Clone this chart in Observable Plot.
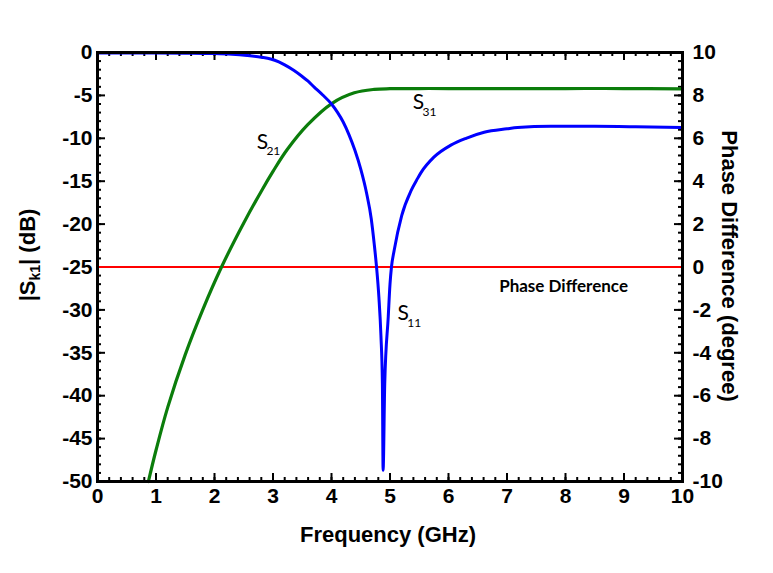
<!DOCTYPE html>
<html><head><meta charset="utf-8">
<script src="https://cdn.jsdelivr.net/npm/d3@7"></script>
<script src="https://cdn.jsdelivr.net/npm/@observablehq/plot@0.6"></script>
<style>body{margin:0;background:#fff;} svg{display:block}</style>
</head><body><div id="chart"></div>
<script>
// S11 (blue) — frequency (GHz) and magnitude (dB)
const s11Freq = [0, 0.5, 1, 1.5, 2, 2.3, 2.56, 2.8, 2.96, 3.1, 3.2, 3.36, 3.5, 3.6, 3.7, 3.85, 4.0, 4.1, 4.2, 4.3, 4.4, 4.5, 4.6, 4.68, 4.73, 4.77, 4.81, 4.845, 4.87, 4.882, 4.91, 4.97, 5.0, 5.025, 5.07, 5.2, 5.36, 5.47, 5.53, 5.75, 6.04, 6.3, 6.61, 7.0, 7.18, 7.75, 8.5, 9.2, 10];
const s11DB   = [-0.05, -0.05, -0.06, -0.08, -0.12, -0.2, -0.35, -0.55, -0.75, -1.1, -1.45, -2.1, -2.8, -3.35, -4.0, -4.95, -6.0, -6.95, -8.1, -9.6, -11.4, -13.6, -16.4, -19.4, -22.3, -25, -28.5, -33, -38.6, -48.7, -38.6, -30.8, -27, -25, -23.1, -19.0, -16.1, -14.7, -14.0, -12.2, -10.8, -10.0, -9.3, -8.9, -8.75, -8.6, -8.6, -8.65, -8.75];
// S21 / S31 (green)
const s21Freq = [0.87, 1.0, 1.2, 1.5, 1.8, 2.12, 2.5, 2.82, 3.0, 3.24, 3.59, 4.01, 4.39, 4.73, 5.0, 5.5, 6, 7, 8, 9, 10];
const s21DB   = [-50, -46.36, -41.36, -35.21, -29.96, -25.0, -19.87, -15.93, -13.86, -11.34, -8.44, -5.92, -4.7, -4.3, -4.22, -4.2, -4.2, -4.2, -4.2, -4.2, -4.25];
// Phase difference (degree)
const phaseFreq = [0, 10];
const phaseDeg  = [0, 0];
// Tick labels
const xTicks = [0, 1, 2, 3, 4, 5, 6, 7, 8, 9, 10];
const yTicks = [0, -5, -10, -15, -20, -25, -30, -35, -40, -45, -50];
const phaseTicks = [10, 8, 6, 4, 2, 0, -2, -4, -6, -8, -10];
// Curve annotations
const labelMain = ["S", "S", "S"];
const labelSub  = ["21", "31", "11"];
const labelFreq = [2.818, 5.487, 5.227];
const labelDB   = [-10.43, -5.83, -30.45];
const phaseLabel = ["Phase Difference"];
const phaseLabelFreq = [6.866];
const phaseLabelDB = [-27.27];

const toDB = p => (p - 10) * 2.5;     // right axis (phase) -> left axis (dB)
const fromDB = d => d / 2.5 + 10;

const W = 773, H = 573, mL = 97, mR = 91, mT = 52, mB = 92;
const pw = W - mL - mR, ph = H - mT - mB;

const xMinor = d3.range(0, 10.0001, 0.2).map(v => +v.toFixed(2));
const yMinor = d3.range(-50, 0.0001, 1);
const pMinor = d3.range(-10, 10.0001, 0.4).map(v => toDB(+v.toFixed(2)));
const pMajor = phaseTicks.map(toDB);

const s11 = s11Freq.map((f, i) => ({f, v: s11DB[i]}));
const s21 = s21Freq.map((f, i) => ({f, v: s21DB[i]}));
const phase = phaseFreq.map((f, i) => ({f, v: toDB(phaseDeg[i])}));
const labels = labelMain.map((t, i) => ({t, s: labelSub[i], f: labelFreq[i], v: labelDB[i]}));

const tickStyle = {stroke: "black", strokeWidth: 2};
const font = "Liberation Sans, Arial, sans-serif";

const chart = Plot.plot({
  width: W, height: H,
  marginLeft: mL, marginRight: mR, marginTop: mT, marginBottom: mB,
  x: {domain: [0, 10]},
  y: {domain: [-50, 0]},
  style: {fontFamily: font, fontSize: "21px", fontWeight: "bold", color: "black", background: "white"},
  marks: [
    // ticks (inward) bottom / top
    Plot.tickX(xMinor, {x: d => d, insetTop: ph - 4, ...tickStyle}),
    Plot.tickX(xTicks, {x: d => d, insetTop: ph - 8, ...tickStyle}),
    Plot.tickX(xMinor, {x: d => d, insetBottom: ph - 4, ...tickStyle}),
    Plot.tickX(xTicks, {x: d => d, insetBottom: ph - 8, ...tickStyle}),
    // left ticks
    Plot.tickY(yMinor, {y: d => d, insetRight: pw - 4, ...tickStyle}),
    Plot.tickY(yTicks, {y: d => d, insetRight: pw - 8, ...tickStyle}),
    // right ticks (phase)
    Plot.tickY(pMinor, {y: d => d, insetLeft: pw - 4, ...tickStyle}),
    Plot.tickY(pMajor, {y: d => d, insetLeft: pw - 8, ...tickStyle}),
    // tick labels
    Plot.axisX(xTicks, {anchor: "bottom", tickSize: 0, tickPadding: 7, label: null, fontSize: 21, tickFormat: d => String(d)}),
    Plot.axisY(yTicks, {anchor: "left", tickSize: 0, tickPadding: 5, label: null, fontSize: 21, tickFormat: d => String(d)}),
    Plot.axisY(pMajor, {anchor: "right", tickSize: 0, tickPadding: 10, label: null, fontSize: 21, tickFormat: d => String(Math.round(fromDB(d)))}),
    // data
    Plot.line(phase, {x: "f", y: "v", stroke: "#ff0000", strokeWidth: 2}),
    Plot.line(s21, {x: "f", y: "v", stroke: "#0b7d0b", strokeWidth: 3.2, curve: "catmull-rom"}),
    Plot.line(s11, {x: "f", y: "v", stroke: "#0000ff", strokeWidth: 3, curve: "monotone-x"}),
    // annotations
    Plot.text(labels, {x: "f", y: "v", text: "t", fontFamily: "Lato, Open Sans, sans-serif", fontWeight: "normal", fontSize: 21, fill: "black"}),
    Plot.text(labels, {x: "f", y: "v", text: "s", dx: 11, dy: 9.5, fontFamily: "Lato, Open Sans, sans-serif", fontWeight: "normal", fontSize: 12, fill: "black"}),
    Plot.text(phaseLabel, {x: phaseLabelFreq, y: phaseLabelDB, text: d => d, textAnchor: "start", fontFamily: "Lato, Open Sans, sans-serif", fontWeight: "bold", fontSize: 17, fill: "black"}),
    Plot.frame({stroke: "black", strokeWidth: 3})
  ]
});

const svg = d3.select(chart);
svg.append("text")
  .attr("x", 388).attr("y", 542)
  .attr("text-anchor", "middle")
  .attr("font-family", font).attr("font-weight", "bold").attr("font-size", 22)
  .attr("fill", "black")
  .text("Frequency (GHz)");

const lt = svg.append("text")
  .attr("transform", "translate(27,255) rotate(-90)")
  .attr("dy", "0.35em")
  .attr("text-anchor", "middle")
  .attr("font-family", font).attr("font-weight", "bold").attr("font-size", 22)
  .attr("fill", "black");
lt.append("tspan").text("|S");
lt.append("tspan").attr("font-size", 14).attr("dy", 5).text("k1");
lt.append("tspan").attr("dy", -5).text("| (dB)");

svg.append("text")
  .attr("transform", "translate(730,266) rotate(90)")
  .attr("dy", "0.35em")
  .attr("text-anchor", "middle")
  .attr("font-family", font).attr("font-weight", "bold").attr("font-size", 22)
  .attr("fill", "black")
  .text("Phase Difference (degree)");

document.getElementById("chart").appendChild(chart);
</script>
</body></html>
